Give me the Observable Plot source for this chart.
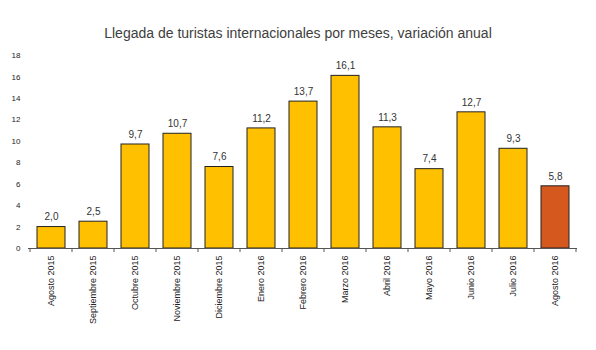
<!DOCTYPE html>
<html>
<head>
<meta charset="utf-8">
<script src="https://cdn.jsdelivr.net/npm/d3@7"></script>
<script src="https://cdn.jsdelivr.net/npm/@observablehq/plot@0.6"></script>
<style>
  body { margin: 0; background: #fff; font-family: "Liberation Sans", Arial, sans-serif; }
  #title { box-sizing: border-box; width: 596px; height: 50px; padding-top: 24px; text-align: center;
           font-size: 14px; line-height: 18px; color: #404040; }
</style>
</head>
<body>
<div id="title">Llegada de turistas internacionales por meses, variación anual</div>
<div id="chart"></div>
<script>
const months = ["Agosto 2015", "Septiembre 2015", "Octubre 2015", "Noviembre 2015", "Diciembre 2015",
  "Enero 2016", "Febrero 2016", "Marzo 2016", "Abril 2016", "Mayo 2016", "Junio 2016", "Julio 2016", "Agosto 2016"];
const values = [2.0, 2.5, 9.7, 10.7, 7.6, 11.2, 13.7, 16.1, 11.3, 7.4, 12.7, 9.3, 5.8];
const highlight = [false, false, false, false, false, false, false, false, false, false, false, false, true];
const yTicks = [0, 2, 4, 6, 8, 10, 12, 14, 16, 18];

const data = months.map((m, i) => ({month: m, value: values[i], hl: highlight[i]}));
const fmt = v => v.toFixed(1).replace(".", ",");

function boundaryTicks(index, scales) {
  const x = scales.x, y0 = scales.y(0);
  const step = x.step(), bw = x.bandwidth();
  const g = d3.create("svg:g").attr("stroke", "#555").attr("stroke-width", 1);
  const edges = months.map(c => x(c) - (step - bw) / 2);
  edges.push(x(months[months.length - 1]) + bw + (step - bw) / 2);
  for (const e of edges) {
    g.append("line").attr("x1", e).attr("x2", e).attr("y1", y0).attr("y2", y0 + 4);
  }
  return g.node();
}

const chart = Plot.plot({
  width: 596,
  height: 300,
  marginTop: 5,
  marginBottom: 102,
  marginLeft: 28,
  marginRight: 19,
  style: {fontFamily: "'Liberation Sans', Arial, sans-serif", background: "#fff"},
  x: {domain: months, paddingInner: 0.34, paddingOuter: 0.17, label: null},
  y: {domain: [0, 18], label: null},
  marks: [
    Plot.axisY({ticks: yTicks, tickSize: 0, tickPadding: 8, fontSize: 8, fill: "#222", label: null}),
    Plot.axisX({tickSize: 0, tickRotate: -90, tickPadding: 7, fontSize: 9, fill: "#222", label: null}),
    Plot.barY(data, {x: "month", y: "value", fill: d => d.hl ? "#D5581F" : "#FFC000", stroke: "#222", strokeWidth: 1}),
    Plot.ruleY([0], {stroke: "#555"}),
    boundaryTicks,
    Plot.text(data, {x: "month", y: "value", text: d => fmt(d.value), dy: -10, fontSize: 10, fill: "#333"})
  ]
});
document.getElementById("chart").appendChild(chart);
</script>
</body>
</html>
